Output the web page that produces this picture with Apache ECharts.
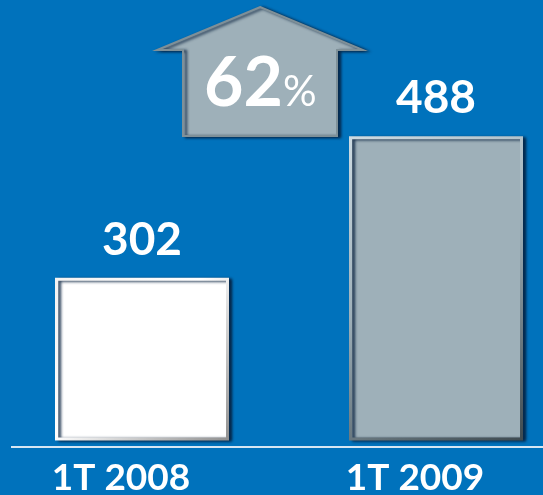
<!DOCTYPE html>
<html>
<head>
<meta charset="utf-8">
<script src="https://cdn.jsdelivr.net/npm/echarts@6/dist/echarts.min.js"></script>
<style>
html,body{margin:0;padding:0;background:#0072BC;}
#main{width:543px;height:495px;}
</style>
</head>
<body>
<div id="main"></div>
<script>
var periods = ['1T 2008', '1T 2009'];
var values = [302, 488];
var growthNum = '62';
var growthUnit = '%';

var chart = echarts.init(document.getElementById('main'));

// bevelled look: gradient border + dark shadow
function bevel(fill, light, dark) {
    return {
        color: fill,
        borderWidth: 3,
        borderColor: new echarts.graphic.LinearGradient(0, 0, 1, 1, [
            {offset: 0, color: light},
            {offset: 0.45, color: fill},
            {offset: 1, color: dark}
        ]),
        shadowColor: 'rgba(5,30,60,0.9)',
        shadowBlur: 3,
        shadowOffsetX: 3,
        shadowOffsetY: 1
    };
}

var labelStyle = {
    show: true,
    position: 'top',
    distance: 15,
    color: '#fff',
    fontFamily: 'Lato',
    fontWeight: 'bold',
    fontSize: 46
};

var option = {
    backgroundColor: '#0072BC',
    animation: false,
    grid: {left: -5, width: 588, top: 51, bottom: 56, containLabel: false, outerBoundsMode: 'none'},
    xAxis: {
        type: 'category',
        data: periods,
        axisLine: {show: false},
        axisTick: {show: false},
        axisLabel: {
            color: '#fff',
            fontFamily: 'Lato',
            fontWeight: 'bold',
            fontSize: 37,
            margin: 21,
            padding: [0, 42, 0, 0]
        }
    },
    yAxis: {
        type: 'value',
        min: 90,
        max: 600,
        show: false,
        splitLine: {show: false}
    },
    series: [{
        type: 'bar',
        barWidth: 174,
        data: [
            {value: values[0], itemStyle: bevel('#ffffff', '#f2f2f2', '#8f8f8f')},
            {value: values[1], itemStyle: bevel('#9EB0B9', '#cddbe2', '#3e4a50')}
        ],
        label: labelStyle
    }],
    graphic: [{
        type: 'line',
        shape: {x1: 11, y1: 447, x2: 543, y2: 447},
        style: {stroke: '#d6e6f3', lineWidth: 2}
    }, {
        type: 'polygon',
        shape: {points: [[260, 7], [363, 50], [337, 50], [337, 136], [183, 136], [183, 50], [157, 50]]},
        style: {
            fill: '#9EB0B9',
            stroke: '#7f9098',
            lineWidth: 2,
            shadowColor: 'rgba(5,30,60,0.9)',
            shadowBlur: 3,
            shadowOffsetX: 3,
            shadowOffsetY: 1
        }
    }, {
        type: 'text',
        left: 204,
        top: 50,
        style: {
            text: '{n|' + growthNum + '}{u|' + growthUnit + '}',
            rich: {
                n: {fill: '#fff', fontFamily: 'Lato', fontWeight: 'bold', fontSize: 68},
                u: {fill: '#fff', fontFamily: 'Lato', fontSize: 42, padding: [16, 0, 0, 0]}
            }
        }
    }]
};
chart.setOption(option);
</script>
</body>
</html>
